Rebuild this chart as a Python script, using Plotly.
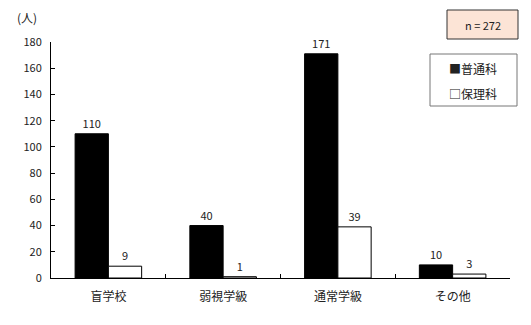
import plotly.graph_objects as go

categories = ["盲学校", "弱視学級", "通常学級", "その他"]
futsuka = [110, 40, 171, 10]
horika = [9, 1, 39, 3]
series_names = ["普通科", "保理科"]
y_ticks = list(range(0, 181, 20))

FONT = "Noto Sans CJK JP"
L, R, T, B = 51, 21, 42, 47
W, H = 531, 325
pw, ph = W - L - R, H - T - B

def px(x):
    return (x - L) / pw

def py(y):
    return (H - B - y) / ph

fig = go.Figure()
fig.add_trace(go.Bar(
    x=categories, y=futsuka, name=series_names[0],
    marker=dict(color="#000000", line=dict(color="#000000", width=1)),
    text=[str(v) for v in futsuka], textposition="outside",
    textfont=dict(size=11, color="#222222", family=FONT), cliponaxis=False,
))
fig.add_trace(go.Bar(
    x=categories, y=horika, name=series_names[1],
    marker=dict(color="#ffffff", line=dict(color="#000000", width=1)),
    text=[str(v) for v in horika], textposition="outside",
    textfont=dict(size=11, color="#222222", family=FONT), cliponaxis=False,
))

def ann(text, x, y, size=12, xanchor="center"):
    return dict(text=text, xref="paper", yref="paper", x=px(x), y=py(y),
                xanchor=xanchor, yanchor="middle", showarrow=False,
                font=dict(size=size))

fig.update_layout(
    width=W, height=H,
    margin=dict(l=L, r=R, t=T, b=B),
    paper_bgcolor="white", plot_bgcolor="white",
    barmode="group", bargap=0.42, bargroupgap=0,
    showlegend=False,
    font=dict(family=FONT, size=11, color="#222222"),
    xaxis=dict(
        showline=True, linecolor="black", linewidth=1,
        ticks="inside", ticklen=4, tickcolor="black", tickson="boundaries",
        tickfont=dict(size=12, color="#222222"), showgrid=False,
        ticklabelstandoff=8,
    ),
    yaxis=dict(
        range=[0, 180], tickvals=y_ticks, showline=True, linecolor="black",
        linewidth=1, ticks="inside", ticklen=4, tickcolor="black",
        showgrid=False, zeroline=False, tickfont=dict(size=11, color="#222222"),
        ticklabelstandoff=6,
    ),
    shapes=[
        dict(type="rect", xref="paper", yref="paper",
             x0=px(447), x1=px(518), y0=py(39), y1=py(10),
             fillcolor="#FCE4D6", line=dict(color="#333333", width=1)),
        dict(type="rect", xref="paper", yref="paper",
             x0=px(430), x1=px(517), y0=py(106), y1=py(54),
             fillcolor="white", line=dict(color="#777777", width=1)),
    ],
    annotations=[
        ann("(人)", 27, 17),
        ann("n = 272", 482.5, 24.5, size=11),
        ann("■" + series_names[0], 447, 68, xanchor="left"),
        ann("□" + series_names[1], 447, 93, xanchor="left"),
    ],
)

fig.write_html("out.html")
